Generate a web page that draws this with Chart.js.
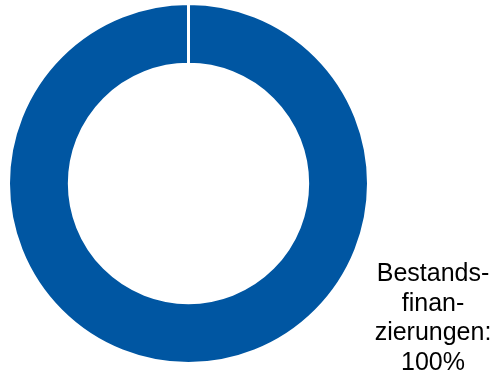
<!DOCTYPE html>
<html>
<head>
<meta charset="utf-8">
<script src="https://cdn.jsdelivr.net/npm/chart.js@4"></script>
<style>
  html, body { margin: 0; padding: 0; background: #ffffff; }
  #wrap { position: relative; width: 496px; height: 374px; }
</style>
</head>
<body>
<div id="wrap"><canvas id="c" width="496" height="374"></canvas></div>
<script>
const categories = ["Bestandsfinanzierungen"];
const shares = [100];
const labelLines = ["Bestands-", "finan-", "zierungen:", "100%"];
const sliceColors = ["#0056A2"];

const labelPlugin = {
  id: 'sliceLabel',
  afterDraw(chart) {
    const ctx = chart.ctx;
    ctx.save();
    ctx.font = '25px "Liberation Sans", Arial, sans-serif';
    ctx.fillStyle = '#000000';
    ctx.textAlign = 'center';
    ctx.textBaseline = 'alphabetic';
    const cx = 433;
    const baselines = [281, 310.5, 340, 369.5];
    labelLines.forEach((t, i) => ctx.fillText(t, cx, baselines[i]));
    ctx.restore();
  }
};

new Chart(document.getElementById('c'), {
  type: 'doughnut',
  data: {
    labels: categories,
    datasets: [{
      data: shares,
      backgroundColor: sliceColors,
      borderColor: '#ffffff',
      borderWidth: 3,
      hoverOffset: 0
    }]
  },
  options: {
    responsive: false,
    animation: false,
    cutout: '66.2%',
    layout: { padding: { left: 7, top: 2, right: 126, bottom: 9 } },
    plugins: {
      legend: { display: false },
      tooltip: { enabled: false }
    },
    events: []
  },
  plugins: [labelPlugin]
});
</script>
</body>
</html>
